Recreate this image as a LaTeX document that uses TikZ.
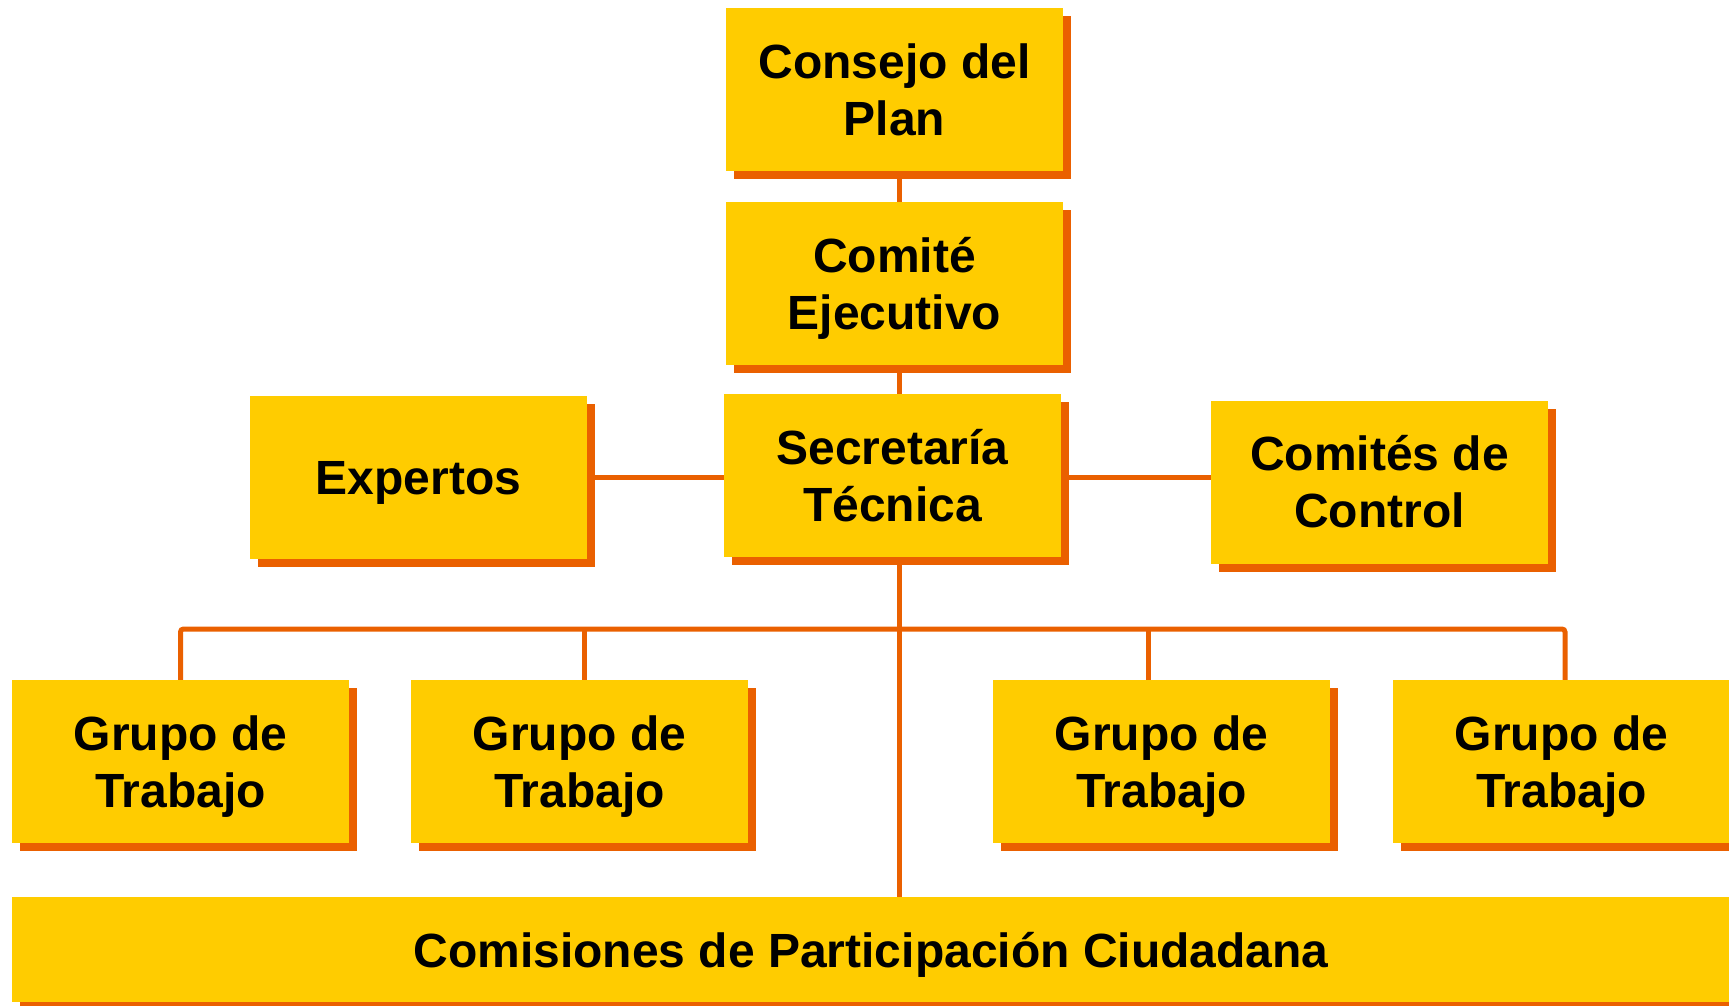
\documentclass[tikz,border=0pt]{standalone}
\usepackage{fontspec}
\setmainfont{Liberation Sans}
\usetikzlibrary{shadows}
\definecolor{ylw}{RGB}{255,204,0}
\definecolor{org}{RGB}{234,96,0}

\begin{document}
\begin{tikzpicture}[x=1pt, y=-1pt,
        unit/.style={rectangle, fill=ylw, minimum width=337pt, minimum height=163pt, inner sep=0pt,
            align=center, font=\fontsize{48}{57}\selectfont\bfseries,
            copy shadow={shadow xshift=8pt, shadow yshift=-8pt, draw=none, fill=org}},
        link/.style={draw=org, line width=5pt}]
        \useasboundingbox (0,0) rectangle (1729,1005);
        \node[unit, text depth=-4pt] (consejo) at (894.5,89.5) {Consejo del\\Plan};
        \node[unit, text depth=-8pt] (comite) at (894.5,283.5) {Comité\\Ejecutivo};
        \node[unit] (secretaria) at (892.5,475.5) {Secretaría\\Técnica};
        \node[unit, text depth=0pt] (expertos) at (418.5,477.5) {Expertos};
        \node[unit] (comites) at (1379.5,482) {Comités de\\Control};
        \node[unit, text depth=0pt] (grupoa) at (180.5,761.5) {Grupo de\\Trabajo};
        \node[unit, text depth=0pt] (grupob) at (579.5,761.5) {Grupo de\\Trabajo};
        \node[unit, text depth=0pt] (grupoc) at (1161.5,761.5) {Grupo de\\Trabajo};
        \node[unit, text depth=0pt] (grupod) at (1561.5,761.5) {Grupo de\\Trabajo};
        \node[unit, minimum width=1718pt, minimum height=105pt, text depth=0pt] (comisiones) at (871,949.5)
            {Comisiones de Participación Ciudadana};
        \coordinate (bus) at (899,629);
        \draw[link] ([xshift=4.5pt]consejo.south) -- ([xshift=4.5pt]comite.north);
        \draw[link] ([xshift=4.5pt]comite.south) -- ([xshift=6.5pt]secretaria.north);
        \draw[link] ([xshift=6.5pt]secretaria.south) -- (bus) -- (bus |- comisiones.north);
        \draw[link] (expertos.east) -- (expertos.east -| secretaria.west);
        \draw[link] ([yshift=-2pt]secretaria.east) -- ([yshift=-2pt]secretaria.east -| comites.west);
        \draw[link, rounded corners=3pt] (grupoa.north) |- (bus) -| ([xshift=3.5pt]grupod.north);
        \draw[link] ([xshift=4.5pt]grupob.north) -- ([xshift=4.5pt]grupob.north |- bus);
        \draw[link] ([xshift=-13.5pt]grupoc.north) -- ([xshift=-13.5pt]grupoc.north |- bus);
    \end{tikzpicture}
\end{document}
